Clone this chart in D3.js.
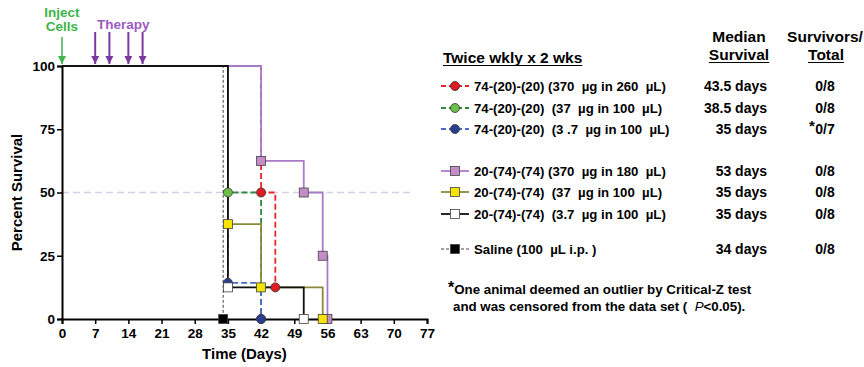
<!DOCTYPE html>
<html>
<head>
<meta charset="utf-8">
<script src="https://cdn.jsdelivr.net/npm/d3@7"></script>
<style>
  body { margin: 0; background: #fff; }
  svg { font-family: "Liberation Sans", Arial, sans-serif; font-weight: bold; }
</style>
</head>
<body>
<svg id="drawing_region"></svg>
<script>
// tick labels
const x_ticks = [0, 7, 14, 21, 28, 35, 42, 49, 56, 63, 70, 77];
const y_ticks = [0, 25, 50, 75, 100];
const therapy_days = [7, 10, 14, 17];
const inject_day = 0;

// step points [day, percent survival]
const red370 = [[0,100],[42,50],[45,12.5]];
const green37 = [[0,100],[35,50],[42,0]];
const blue3_7 = [[0,100],[35,14.3],[42,0]];
const purple370 = [[0,100],[42,62.5],[51,50],[55,25],[56,0]];
const olive37 = [[0,100],[35,37.5],[42,12.5],[55,0]];
const black3_7 = [[0,100],[35,12.5],[51,0]];
const saline = [[0,100],[34,0]];

const labels = [
  "74-(20)-(20) (370  \u00b5g in 260  \u00b5L)",
  "74-(20)-(20)  (37  \u00b5g in 100  \u00b5L)",
  "74-(20)-(20)  (3 .7  \u00b5g in 100  \u00b5L)",
  "20-(74)-(74) (370  \u00b5g in 180  \u00b5L)",
  "20-(74)-(74)  (37  \u00b5g in 100  \u00b5L)",
  "20-(74)-(74)  (3.7  \u00b5g in 100  \u00b5L)",
  "Saline (100  \u00b5L i.p. )"
];
const medians = ["43.5 days", "38.5 days", "35 days", "53 days", "35 days", "35 days", "34 days"];
const survivors = ["0/8", "0/8", "0/7", "0/8", "0/8", "0/8", "0/8"];

const series = [
  {data: red370,    line: "#e8262a", fill: "#e01b22", shape: "circle", dash: "6,3", width: 1.8},
  {data: green37,   line: "#2e8b3e", fill: "#6cc04a", shape: "circle", dash: "6,3", width: 1.8},
  {data: blue3_7,   line: "#4a6cc8", fill: "#2b3f8f", shape: "circle", dash: "6,3", width: 1.8},
  {data: purple370, line: "#a77bc8", fill: "#c48dc6", shape: "square", dash: null, width: 1.8},
  {data: olive37,   line: "#8a8a3a", fill: "#f5e400", shape: "square", dash: null, width: 1.8},
  {data: black3_7,  line: "#111", fill: "#fff",    shape: "square", dash: null, width: 1.8},
  {data: saline,    line: "#444", fill: "#000",    shape: "square", dash: "3,2", width: 1}
];
// drawing order: saline first, then the treated groups
const draw_order = [6, 0, 1, 2, 3, 4, 5];
const legend_y = [86, 108, 129, 171, 192, 214, 249];

const W = 864, H = 367;
const margin = {top: 66, left: 62, right: 437, bottom: 48};

const svg = d3.select('#drawing_region')
  .attr('width', W)
  .attr('height', H);

const x_scale = d3.scaleLinear().domain([0, 77]).range([margin.left, W - margin.right]);
const y_scale = d3.scaleLinear().domain([0, 100]).range([H - margin.bottom, margin.top]);

// 50% reference line
svg.append('line')
  .attr('x1', x_scale(0)).attr('x2', x_scale(74))
  .attr('y1', y_scale(50)).attr('y2', y_scale(50))
  .attr('stroke', '#d6d0e6').attr('stroke-width', 1.5)
  .attr('stroke-dasharray', '7,4');

// axes
const x_axis = d3.axisBottom(x_scale).tickValues(x_ticks).tickSize(5).tickPadding(4);
const y_axis = d3.axisLeft(y_scale).tickValues(y_ticks).tickSize(5).tickPadding(2);

const xg = svg.append('g')
  .attr('transform', `translate(0, ${y_scale(0)})`)
  .call(x_axis);
const yg = svg.append('g')
  .attr('transform', `translate(${x_scale(0)}, 0)`)
  .call(y_axis);

[xg, yg].forEach(g => {
  g.select('.domain').attr('stroke', '#000').attr('stroke-width', 2);
  g.selectAll('.tick line').attr('stroke', '#000').attr('stroke-width', 1.5);
  g.selectAll('.tick text')
    .attr('font-family', '"Liberation Sans", Arial, sans-serif')
    .attr('font-weight', 'bold')
    .attr('font-size', 13.5)
    .attr('fill', '#000');
});

svg.append('text')
  .attr('x', x_scale(38.5)).attr('y', 359)
  .attr('text-anchor', 'middle')
  .attr('font-size', 15)
  .text('Time (Days)');

svg.append('text')
  .attr('transform', `translate(22, ${y_scale(50)}) rotate(-90)`)
  .attr('text-anchor', 'middle')
  .attr('font-size', 15)
  .text('Percent Survival');

// survival curves
const line = d3.line()
  .x(d => x_scale(d[0]))
  .y(d => y_scale(d[1]))
  .curve(d3.curveStepAfter);

draw_order.forEach(si => {
  const s = series[si];
  svg.append('path')
    .attr('d', line(s.data))
    .attr('fill', 'none')
    .attr('stroke', s.line)
    .attr('stroke-width', s.width)
    .attr('stroke-dasharray', s.dash);
});

function drawMarker(g, shape, x, y, fill) {
  if (shape === 'circle') {
    g.append('circle')
      .attr('cx', x).attr('cy', y).attr('r', 4.5)
      .attr('fill', fill).attr('stroke', '#333').attr('stroke-width', 0.8);
  } else {
    g.append('rect')
      .attr('x', x - 4.5).attr('y', y - 4.5)
      .attr('width', 9).attr('height', 9)
      .attr('fill', fill).attr('stroke', '#444').attr('stroke-width', 0.8);
  }
}

const marks = svg.append('g');
draw_order.forEach(si => {
  const s = series[si];
  s.data.slice(1).forEach(d => {
    drawMarker(marks, s.shape, x_scale(d[0]), y_scale(d[1]), s.fill);
  });
});

// inject / therapy arrows
svg.append('defs').selectAll('marker')
  .data([['ahG', '#3db54a'], ['ahP', '#7a3a9e']])
  .join('marker')
  .attr('id', d => d[0])
  .attr('viewBox', '0 0 10 10')
  .attr('refX', 10).attr('refY', 5)
  .attr('markerWidth', 8).attr('markerHeight', 8)
  .attr('markerUnits', 'userSpaceOnUse')
  .attr('orient', 'auto')
  .append('path')
  .attr('d', 'M0,0 L10,5 L0,10 z')
  .attr('fill', d => d[1]);

svg.append('line')
  .attr('x1', x_scale(inject_day)).attr('x2', x_scale(inject_day))
  .attr('y1', 37).attr('y2', 64)
  .attr('stroke', '#3db54a').attr('stroke-width', 1.5)
  .attr('marker-end', 'url(#ahG)');

svg.selectAll('.therapy')
  .data(therapy_days)
  .join('line')
  .attr('x1', d => x_scale(d)).attr('x2', d => x_scale(d))
  .attr('y1', 32).attr('y2', 64)
  .attr('stroke', '#7a3a9e').attr('stroke-width', 2)
  .attr('marker-end', 'url(#ahP)');

svg.append('text').attr('x', x_scale(0)).attr('y', 17)
  .attr('text-anchor', 'middle').attr('font-size', 13.5).attr('fill', '#3db54a')
  .text('Inject');
svg.append('text').attr('x', x_scale(0)).attr('y', 31)
  .attr('text-anchor', 'middle').attr('font-size', 13.5).attr('fill', '#3db54a')
  .text('Cells');
svg.append('text').attr('x', 97).attr('y', 29)
  .attr('font-size', 13.5).attr('fill', '#9a5cc0')
  .text('Therapy');

// legend / table
const leg = svg.append('g');

function underlined(x, y, txt, size, anchor) {
  const t = leg.append('text').attr('x', x).attr('y', y)
    .attr('font-size', size).attr('text-anchor', anchor).text(txt);
  const bb = t.node().getBBox();
  leg.append('line')
    .attr('x1', bb.x).attr('x2', bb.x + bb.width)
    .attr('y1', y + 2.5).attr('y2', y + 2.5)
    .attr('stroke', '#000').attr('stroke-width', 1.2);
}

underlined(443, 63, 'Twice wkly x 2 wks', 15.5, 'start');
leg.append('text').attr('x', 739).attr('y', 42).attr('font-size', 15.5)
  .attr('text-anchor', 'middle').text('Median');
underlined(739, 60, 'Survival', 15.5, 'middle');
leg.append('text').attr('x', 825).attr('y', 42).attr('font-size', 15.5)
  .attr('text-anchor', 'middle').text('Survivors/');
underlined(826, 60, 'Total', 15.5, 'middle');

series.forEach((s, i) => {
  const y = legend_y[i];
  leg.append('line')
    .attr('x1', 441).attr('x2', 469)
    .attr('y1', y).attr('y2', y)
    .attr('stroke', s.line).attr('stroke-width', s.width)
    .attr('stroke-dasharray', s.dash ? (i === 6 ? '3,2' : '5,3') : null);
  drawMarker(leg, s.shape, 455, y, s.fill);
  leg.append('text').attr('x', 474).attr('y', y + 4.5)
    .attr('font-size', 13.2).style('white-space', 'pre')
    .text(labels[i]);
  leg.append('text').attr('x', 767).attr('y', y + 5)
    .attr('font-size', 14).attr('text-anchor', 'end')
    .text(medians[i]);
  leg.append('text').attr('x', 825).attr('y', y + 5)
    .attr('font-size', 14).attr('text-anchor', 'middle')
    .text(survivors[i]);
});

// asterisk for the 3.7 ug group
leg.append('text').attr('x', 809).attr('y', legend_y[2] + 2)
  .attr('font-size', 15).text('*');

leg.append('text').attr('x', 448).attr('y', 294).attr('font-size', 13.3)
  .html('<tspan font-size="16" dy="-1">*</tspan><tspan dy="1">One animal deemed an outlier by Critical-Z test</tspan>');
leg.append('text').attr('x', 453).attr('y', 311).attr('font-size', 13.3)
  .style('white-space', 'pre')
  .html('and was censored from the data set (  <tspan font-style="italic" font-weight="normal">P</tspan>&lt;0.05).');
</script>
</body>
</html>
